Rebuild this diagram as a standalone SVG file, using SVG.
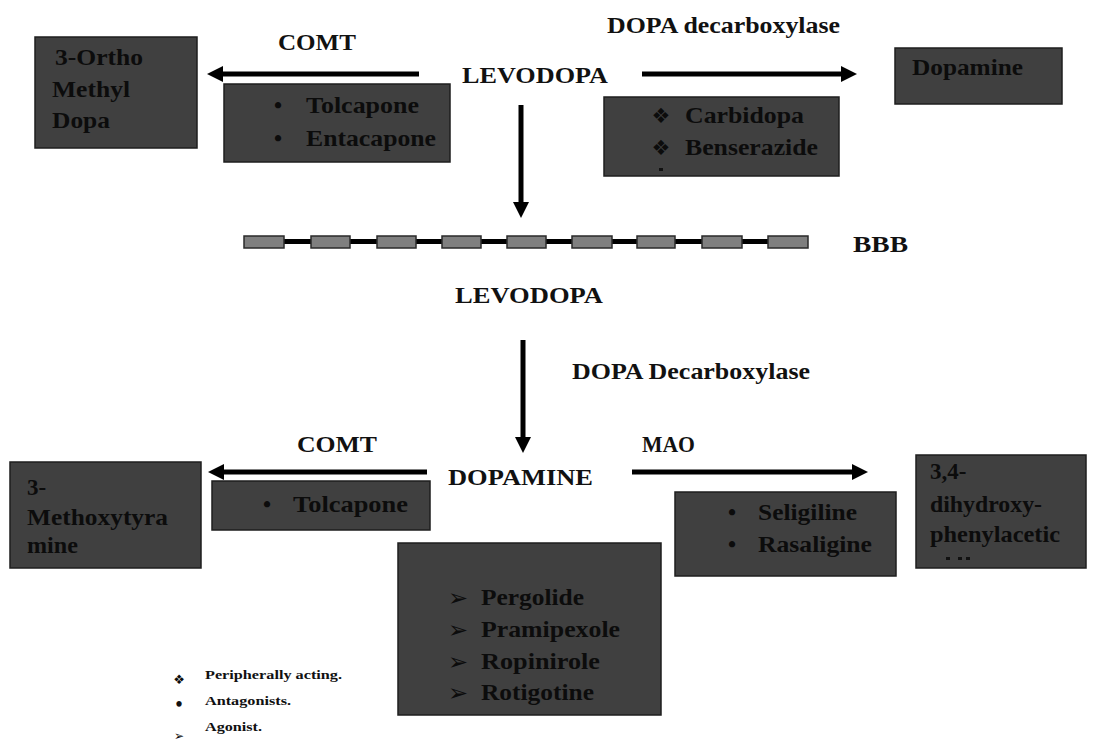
<svg xmlns="http://www.w3.org/2000/svg" width="1093" height="742" viewBox="0 0 1093 742">
<style>
.bg{fill:#ffffff}
.box{fill:#404040;stroke:#1e1e1e;stroke-width:1.5}
.lbl{font-family:"Liberation Serif","Times New Roman",serif;font-weight:bold;font-size:23px;fill:#111111}
.in{font-family:"Liberation Serif","Times New Roman",serif;font-weight:bold;font-size:23px;fill:#0c0c0c}
.sym{font-family:"DejaVu Sans",sans-serif;fill:#0c0c0c}
.leg{font-family:"Liberation Serif","Times New Roman",serif;font-weight:bold;font-size:13px;fill:#111111}
.arr{stroke:#000000;stroke-width:5;fill:none}
.bar{fill:#7f7f7f;stroke:#2a2a2a;stroke-width:1.5}
</style>
<defs>
<marker id="ah" markerUnits="userSpaceOnUse" markerWidth="18" markerHeight="18" refX="2" refY="8" orient="auto">
<path d="M0,0 L16,8 L0,16 z" fill="#000000"/>
</marker>
</defs>
<rect class="bg" x="0" y="0" width="1093" height="742"/>

<g id="connectors">
<line class="arr" x1="419" y1="74" x2="221" y2="74" marker-end="url(#ah)"/>
<line class="arr" x1="642" y1="74" x2="843" y2="74" marker-end="url(#ah)"/>
<line class="arr" x1="521" y1="105" x2="521" y2="204" marker-end="url(#ah)"/>
<line class="arr" x1="523" y1="340" x2="523" y2="439" marker-end="url(#ah)"/>
<line class="arr" x1="427" y1="472" x2="222" y2="472" marker-end="url(#ah)"/>
<line class="arr" x1="632" y1="472" x2="854" y2="472" marker-end="url(#ah)"/>
</g>

<g id="bbb">
<line x1="244" y1="241.5" x2="808" y2="241.5" stroke="#000000" stroke-width="5"/>
<rect class="bar" x="244" y="236" width="40" height="12"/>
<rect class="bar" x="311" y="236" width="39" height="12"/>
<rect class="bar" x="377" y="236" width="39" height="12"/>
<rect class="bar" x="442" y="236" width="39" height="12"/>
<rect class="bar" x="507" y="236" width="39" height="12"/>
<rect class="bar" x="572" y="236" width="40" height="12"/>
<rect class="bar" x="637" y="236" width="38" height="12"/>
<rect class="bar" x="702" y="236" width="40" height="12"/>
<rect class="bar" x="768" y="236" width="40" height="12"/>
<text class="lbl" x="853" y="252" textLength="55" lengthAdjust="spacingAndGlyphs">BBB</text>
</g>

<g id="labels">
<text class="lbl" x="278" y="50" textLength="78" lengthAdjust="spacingAndGlyphs">COMT</text>
<text class="lbl" x="462" y="83" textLength="146" lengthAdjust="spacingAndGlyphs">LEVODOPA</text>
<text class="lbl" x="607" y="33" textLength="233" lengthAdjust="spacingAndGlyphs">DOPA decarboxylase</text>
<text class="lbl" x="455" y="303" textLength="148" lengthAdjust="spacingAndGlyphs">LEVODOPA</text>
<text class="lbl" x="572" y="379" textLength="238" lengthAdjust="spacingAndGlyphs">DOPA Decarboxylase</text>
<text class="lbl" x="297" y="452" textLength="80" lengthAdjust="spacingAndGlyphs">COMT</text>
<text class="lbl" x="642" y="452" textLength="53" lengthAdjust="spacingAndGlyphs">MAO</text>
<text class="lbl" x="448" y="485" textLength="145" lengthAdjust="spacingAndGlyphs">DOPAMINE</text>
</g>

<g id="node-omd">
<rect class="box" x="35" y="37" width="162" height="111"/>
<text class="in" x="55" y="65" textLength="88" lengthAdjust="spacingAndGlyphs">3-Ortho</text>
<text class="in" x="52" y="97" textLength="78" lengthAdjust="spacingAndGlyphs">Methyl</text>
<text class="in" x="52" y="128" textLength="58" lengthAdjust="spacingAndGlyphs">Dopa</text>
</g>

<g id="node-comt-inh">
<rect class="box" x="224" y="84" width="226" height="78"/>
<text class="in" x="278" y="113" text-anchor="middle">•</text>
<text class="in" x="306" y="113" textLength="113" lengthAdjust="spacingAndGlyphs">Tolcapone</text>
<text class="in" x="278" y="146" text-anchor="middle">•</text>
<text class="in" x="306" y="146" textLength="130" lengthAdjust="spacingAndGlyphs">Entacapone</text>
</g>

<g id="node-ddc-inh">
<rect class="box" x="604" y="97" width="235" height="79"/>
<text class="sym" x="661" y="123" font-size="21" text-anchor="middle">❖</text>
<text class="in" x="685" y="123" textLength="119" lengthAdjust="spacingAndGlyphs">Carbidopa</text>
<text class="sym" x="661" y="155" font-size="21" text-anchor="middle">❖</text>
<text class="in" x="685" y="155" textLength="133" lengthAdjust="spacingAndGlyphs">Benserazide</text>
<rect x="659" y="168" width="4" height="3" fill="#111111"/>
</g>

<g id="node-dopamine-periph">
<rect class="box" x="895" y="48" width="167" height="56"/>
<text class="in" x="912" y="75" textLength="111" lengthAdjust="spacingAndGlyphs">Dopamine</text>
</g>

<g id="node-3mt">
<rect class="box" x="10" y="462" width="191" height="106"/>
<text class="in" x="27" y="495">3-</text>
<text class="in" x="27" y="525" textLength="141" lengthAdjust="spacingAndGlyphs">Methoxytyra</text>
<text class="in" x="27" y="553" textLength="51" lengthAdjust="spacingAndGlyphs">mine</text>
</g>

<g id="node-comt-inh2">
<rect class="box" x="212" y="481" width="218" height="49"/>
<text class="in" x="267" y="512" text-anchor="middle">•</text>
<text class="in" x="293" y="512" textLength="115" lengthAdjust="spacingAndGlyphs">Tolcapone</text>
</g>

<g id="node-mao-inh">
<rect class="box" x="675" y="492" width="221" height="84"/>
<text class="in" x="732" y="520" text-anchor="middle">•</text>
<text class="in" x="758" y="520" textLength="99" lengthAdjust="spacingAndGlyphs">Seligiline</text>
<text class="in" x="732" y="552" text-anchor="middle">•</text>
<text class="in" x="758" y="552" textLength="114" lengthAdjust="spacingAndGlyphs">Rasaligine</text>
</g>

<g id="node-dopac">
<rect class="box" x="916" y="455" width="170" height="113"/>
<text class="in" x="930" y="479">3,4-</text>
<text class="in" x="930" y="512" textLength="112" lengthAdjust="spacingAndGlyphs">dihydroxy-</text>
<text class="in" x="930" y="542" textLength="130" lengthAdjust="spacingAndGlyphs">phenylacetic</text>
<rect x="946" y="557" width="4" height="3" fill="#111111"/>
<rect x="958" y="557" width="4" height="3" fill="#111111"/>
<rect x="966" y="557" width="4" height="3" fill="#111111"/>
</g>

<g id="node-agonists">
<rect class="box" x="398" y="543" width="263" height="172"/>
<text class="sym" x="448" y="606" font-size="24">➢</text>
<text class="in" x="481" y="605" textLength="103" lengthAdjust="spacingAndGlyphs">Pergolide</text>
<text class="sym" x="448" y="638" font-size="24">➢</text>
<text class="in" x="481" y="637" textLength="139" lengthAdjust="spacingAndGlyphs">Pramipexole</text>
<text class="sym" x="448" y="670" font-size="24">➢</text>
<text class="in" x="481" y="669" textLength="119" lengthAdjust="spacingAndGlyphs">Ropinirole</text>
<text class="sym" x="448" y="701" font-size="24">➢</text>
<text class="in" x="481" y="700" textLength="113" lengthAdjust="spacingAndGlyphs">Rotigotine</text>
</g>

<g id="legend">
<text class="sym" x="179" y="684" font-size="13" text-anchor="middle">❖</text>
<text class="leg" x="205" y="679" textLength="137" lengthAdjust="spacingAndGlyphs">Peripherally acting.</text>
<text class="leg" x="179" y="711" style="font-size:20px" text-anchor="middle">•</text>
<text class="leg" x="205" y="705" textLength="86" lengthAdjust="spacingAndGlyphs">Antagonists.</text>
<text class="sym" x="179" y="740" font-size="12" text-anchor="middle">➢</text>
<text class="leg" x="205" y="731" textLength="57" lengthAdjust="spacingAndGlyphs">Agonist.</text>
</g>
</svg>
